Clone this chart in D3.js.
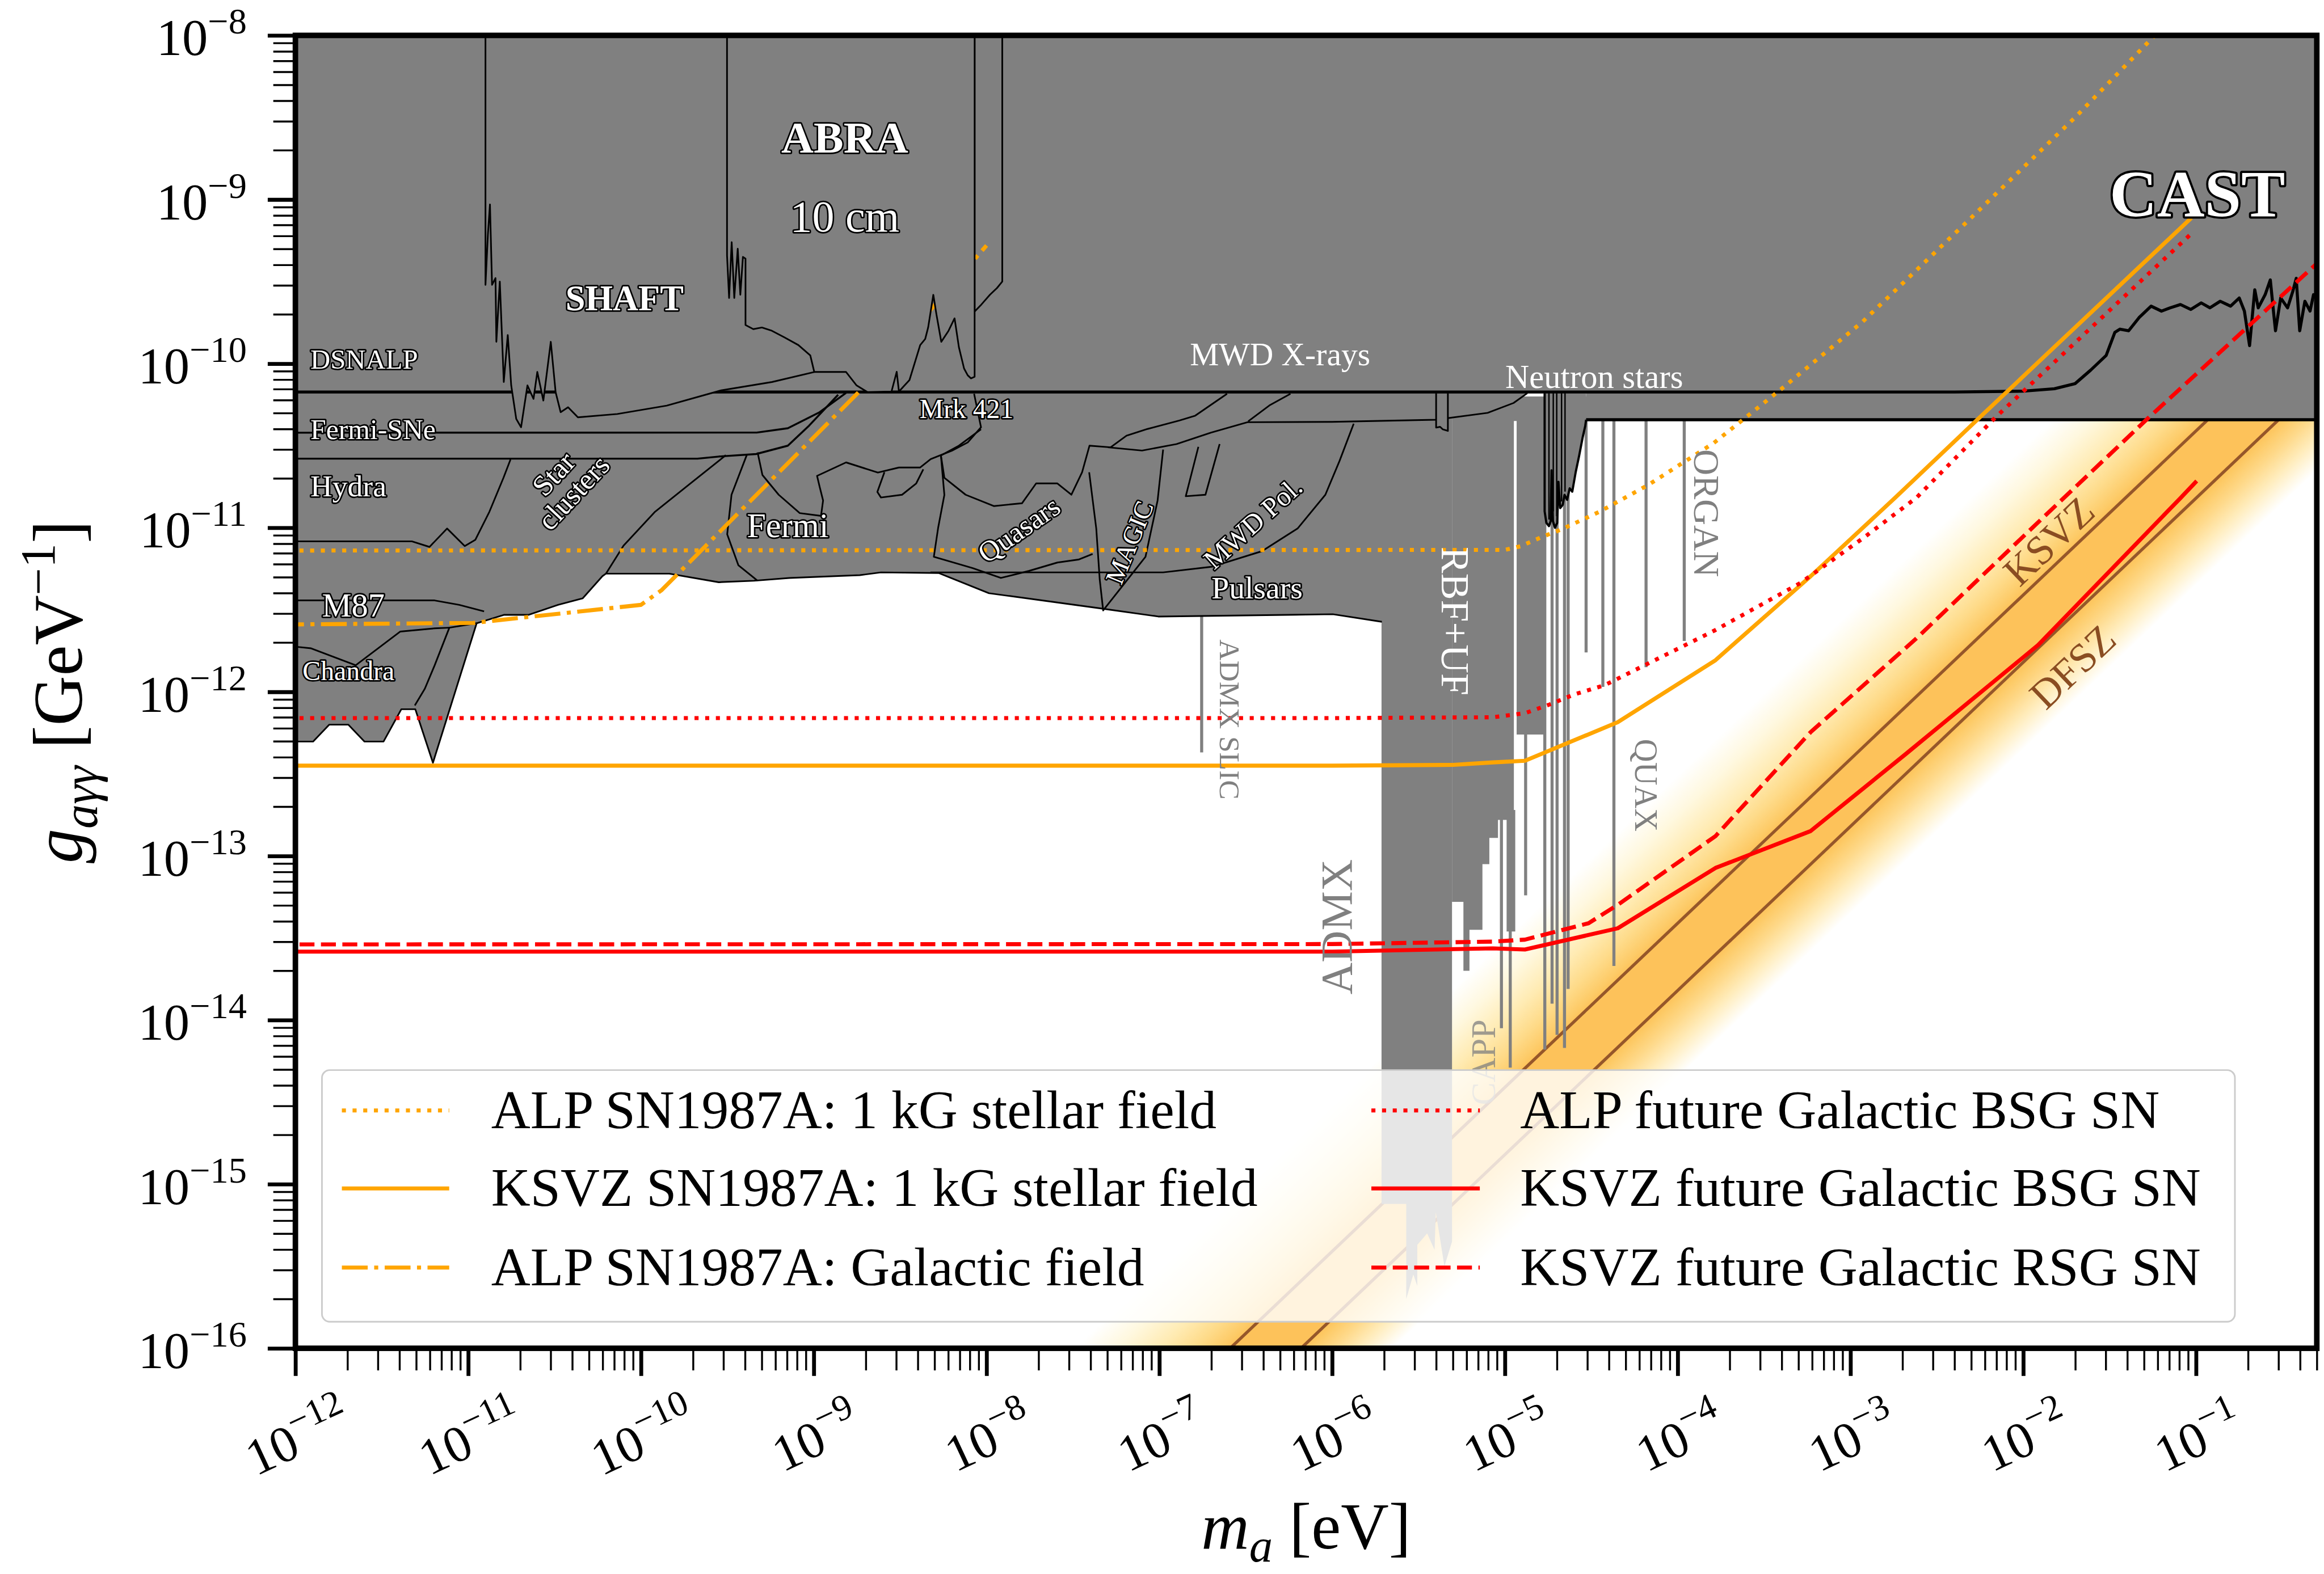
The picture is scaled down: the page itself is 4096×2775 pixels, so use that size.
<!DOCTYPE html>
<html>
<head>
<meta charset="utf-8">
<title>Axion-photon coupling limits</title>
<script src="https://cdn.jsdelivr.net/npm/d3@7/dist/d3.min.js"></script>
<style>
  html, body { margin: 0; padding: 0; background: #fff; }
  svg text { font-family: "Liberation Serif", "DejaVu Serif", serif; }
</style>
</head>
<body>
<div id="chart"></div>
<script>
// All values are log10: m = log10(m_a / eV), g = log10(g_agg / GeV^-1)

// axes
const xDecades = d3.range(-12, 0);
const yDecades = d3.range(-16, -7);
const xDomain = [1e-12, 0.5];
const yDomain = [1e-16, 1e-8];

// QCD axion band: log10(g/m) of the model lines, and where the shading fades out
const qcdModels = ['KSVZ', 'DFSZ'];
const qcdLogRatio = [-9.41, -9.82];
const qcdGlowEdge = [-8.51, -10.35];

// supernova curves [m, g]
const alpStellar = [[-12.1,-11.139],[-5.0,-11.135],[-4.91,-11.113],[-4.78,-11.054],[-4.67,-11.009],[-4.455,-10.904],[-4.17,-10.739],[-3.79,-10.483],[-3.41,-10.163],[-2.93,-9.745],[-2.31,-9.12],[-1.70,-8.50],[-1.257,-8.02],[-1.2,-7.96]];
const ksvzStellar = [[-12.1,-12.45],[-6.0,-12.45],[-5.3,-12.445],[-5.07,-12.43],[-4.884,-12.42],[-4.347,-12.185],[-3.781,-11.807],[-3.23,-11.295],[-2.741,-10.817],[-2.251,-10.327],[-1.027,-9.112]];
const alpGalactic = [[-12.1,-11.59],[-10.97,-11.58],[-10.0,-11.47],[-9.88,-11.38],[-8.73,-10.163],[-8.0,-9.28]];
const alpFutureBSG = [[-12.1,-12.16],[-6.0,-12.16],[-5.07,-12.155],[-4.884,-12.13],[-4.741,-12.077],[-4.599,-12.016],[-4.424,-11.96],[-3.786,-11.626],[-3.29,-11.337],[-2.925,-11.062],[-2.618,-10.817],[-2.16,-10.327],[-1.012,-9.193]];
const ksvzFutureBSG = [[-12.1,-13.583],[-6.0,-13.583],[-5.07,-13.563],[-4.884,-13.57],[-4.347,-13.441],[-3.781,-13.073],[-3.23,-12.848],[-2.68,-12.379],[-1.914,-11.715],[-1.088,-10.817],[-0.996,-10.715]];
const ksvzFutureRSG = [[-12.1,-13.539],[-6.0,-13.537],[-5.07,-13.522],[-4.884,-13.51],[-4.516,-13.41],[-4.347,-13.298],[-3.781,-12.879],[-3.23,-12.245],[-2.618,-11.674],[-1.885,-10.938],[-1.272,-10.327],[-0.28,-9.37]];

const legendLabels = [
  'ALP SN1987A: 1 kG stellar field',
  'KSVZ SN1987A: 1 kG stellar field',
  'ALP SN1987A: Galactic field',
  'ALP future Galactic BSG SN',
  'KSVZ future Galactic BSG SN',
  'KSVZ future Galactic RSG SN'
];

// helioscopes / haloscopes
const cast = [[-12.1,-10.173],[-2.4,-10.173],[-2.0,-10.168],[-1.82,-10.153],[-1.70,-10.122],[-1.61,-10.04],[-1.52,-9.95],[-1.47,-9.81],[-1.44,-9.79],[-1.39,-9.80],[-1.33,-9.72],[-1.26,-9.65],[-1.20,-9.68],[-1.15,-9.66],[-1.09,-9.64],[-1.03,-9.67],[-0.97,-9.63],[-0.92,-9.66],[-0.86,-9.62],[-0.80,-9.65],[-0.75,-9.60],[-0.72,-9.68],[-0.69,-9.89],[-0.66,-9.55],[-0.64,-9.66],[-0.60,-9.58],[-0.57,-9.49],[-0.55,-9.70],[-0.54,-9.80],[-0.51,-9.60],[-0.47,-9.66],[-0.44,-9.56],[-0.42,-9.48],[-0.40,-9.80],[-0.37,-9.62],[-0.34,-9.68],[-0.32,-9.58],[-0.28,-9.63]];
const shaft = [[-10.900,-7.9],[-10.900,-9.52],[-10.886,-9.214],[-10.874,-9.03],[-10.862,-9.52],[-10.842,-9.479],[-10.837,-9.867],[-10.817,-9.5],[-10.794,-10.112],[-10.771,-9.826],[-10.751,-10.133],[-10.722,-10.337],[-10.694,-10.388],[-10.657,-10.133],[-10.622,-10.215],[-10.600,-10.051],[-10.565,-10.225],[-10.522,-9.867],[-10.494,-10.174],[-10.465,-10.296],[-10.422,-10.266],[-10.365,-10.327],[-10.137,-10.307],[-9.851,-10.256],[-9.536,-10.163],[-9.242,-10.112],[-8.997,-10.051]];
const abra = [[-9.502,-7.9],[-9.502,-9.34],[-9.49,-9.6],[-9.475,-9.26],[-9.46,-9.60],[-9.44,-9.30],[-9.425,-9.58],[-9.41,-9.35],[-9.395,-9.36],[-9.395,-9.765],[-9.35,-9.79],[-9.30,-9.78],[-9.242,-9.80],[-9.17,-9.84],[-9.089,-9.887],[-9.02,-9.95],[-8.997,-10.051],[-8.813,-10.051],[-8.752,-10.133],[-8.69,-10.173],[-8.55,-10.17],[-8.52,-10.05],[-8.507,-10.17],[-8.446,-10.10],[-8.384,-9.887],[-8.355,-9.85],[-8.338,-9.78],[-8.308,-9.581],[-8.29,-9.70],[-8.262,-9.867],[-8.22,-9.80],[-8.185,-9.724],[-8.16,-9.90],[-8.13,-10.03],[-8.109,-10.071],[-8.09,-10.09],[-8.069,-10.08],[-8.069,-7.9]];
const abraRun2 = [[-8.069,-7.9],[-8.069,-9.683],[-8.03,-9.64],[-7.98,-9.58],[-7.94,-9.54],[-7.909,-9.50],[-7.909,-7.9]];
const admx = [[-5.714,-10.2],[-5.714,-15.12],[-5.571,-15.12],[-5.571,-15.70],[-5.53,-15.55],[-5.507,-15.62],[-5.507,-15.37],[-5.45,-15.30],[-5.407,-15.40],[-5.40,-15.17],[-5.35,-15.50],[-5.306,-15.35],[-5.306,-10.2]];
const rbfUf = [[-5.306,-10.2],[-5.306,-13.28],[-5.24,-13.28],[-5.24,-13.70],[-5.205,-13.70],[-5.205,-13.45],[-5.13,-13.45],[-5.13,-13.05],[-5.09,-13.05],[-5.09,-12.89],[-5.04,-12.89],[-5.04,-12.78],[-4.99,-12.78],[-4.99,-13.46],[-4.94,-13.46],[-4.94,-12.26],[-4.77,-12.26],[-4.77,-10.2]];
// narrow haloscope exclusions: [m, lowest g]
const haloLines = [[-6.755,-12.369],[-5.02,-14.05],[-4.969,-14.29],[-4.88,-13.24],[-4.769,-14.18],[-4.727,-13.90],[-4.698,-14.09],[-4.655,-14.17],[-4.634,-13.81],[-4.53,-11.76],[-4.433,-11.97],[-4.369,-13.67],[-4.183,-11.85],[-3.962,-11.69]];
const rbfGap = [[-4.94,-10.35],[-4.94,-12.72]];

// astrophysical bounds: lower envelope and internal region edges
const astroLower = [[-12,-12.303],[-11.898,-12.303],[-11.804,-12.20],[-11.694,-12.20],[-11.60,-12.303],[-11.49,-12.303],[-11.387,-12.106],[-11.306,-12.106],[-11.204,-12.432],[-10.951,-11.582],[-10.794,-11.531],[-10.652,-11.531],[-10.48,-11.47],[-10.337,-11.43],[-10.223,-11.295],[-10.203,-11.28],[-9.836,-11.28],[-9.55,-11.332],[-9.346,-11.323],[-9.142,-11.306],[-8.733,-11.289],[-8.611,-11.272],[-8.277,-11.276],[-7.986,-11.399],[-7.343,-11.491],[-7.006,-11.541],[-6.753,-11.538],[-5.996,-11.527],[-5.712,-11.573]];
const fermiSNe = [[-12,-10.421],[-9.33,-10.42],[-9.15,-10.394],[-8.966,-10.296],[-8.813,-10.178]];
const hydraTop = [[-12,-10.579],[-9.673,-10.579],[-9.548,-10.566],[-9.334,-10.551],[-9.15,-10.50],[-9.027,-10.378],[-8.859,-10.19]];
const hydraBottom = [[-12,-11.083],[-11.326,-11.083],[-11.224,-11.117],[-11.122,-11.005],[-11.02,-11.112],[-10.959,-11.074],[-10.877,-10.902],[-10.796,-10.696],[-10.755,-10.584]];
const starClusters = [[-9.509,-10.558],[-9.714,-10.730],[-9.918,-10.902],[-10.101,-11.109],[-10.203,-11.28]];
const m87 = [[-12,-11.443],[-11.194,-11.443],[-11.052,-11.47],[-10.908,-11.51]];
const chandraTop = [[-12,-11.725],[-11.909,-11.735],[-11.651,-11.838],[-11.394,-11.633],[-11.194,-11.613],[-11.109,-11.609]];
const chandraSide = [[-10.951,-11.582],[-11.109,-11.609],[-11.194,-11.838],[-11.251,-11.981],[-11.309,-12.083]];
const fermiLeft = [[-9.387,-10.555],[-9.476,-10.799],[-9.501,-11.04],[-9.436,-11.229],[-9.325,-11.323]];
const fermiInner = [[-9.325,-10.541],[-9.297,-10.679],[-9.203,-10.799],[-9.081,-10.911],[-8.958,-10.928],[-8.946,-10.834],[-8.966,-10.75],[-8.981,-10.684],[-8.813,-10.602],[-8.629,-10.664],[-8.507,-10.633],[-8.384,-10.633],[-8.323,-10.582],[-8.201,-10.531],[-8.109,-10.48],[-8.032,-10.388],[-8.072,-10.184]];
const fermiLoop = [[-8.591,-10.662],[-8.632,-10.782],[-8.611,-10.816],[-8.489,-10.799],[-8.407,-10.730],[-8.366,-10.644]];
const mrkUpper = [[-8.032,-10.40],[-8.16,-10.50],[-8.264,-10.56],[-8.244,-10.696],[-8.121,-10.799],[-7.958,-10.868],[-7.795,-10.851],[-7.713,-10.73],[-7.59,-10.73],[-7.509,-10.799],[-7.447,-10.662],[-7.404,-10.5],[-7.282,-10.51],[-7.19,-10.439],[-7.068,-10.398],[-6.884,-10.347],[-6.792,-10.317],[-6.608,-10.184]];
const quasars = [[-8.264,-10.56],[-8.244,-10.80],[-8.28,-11.0],[-8.305,-11.177],[-8.08,-11.246],[-7.917,-11.306],[-7.754,-11.263],[-7.59,-11.212],[-7.468,-11.194],[-7.386,-11.16]];
const magic = [[-7.406,-10.662],[-7.365,-11.005],[-7.345,-11.315],[-7.325,-11.504],[-7.08,-11.177],[-7.01,-10.834],[-6.978,-10.524]];
const mwdPol = [[-8.325,-11.272],[-6.978,-11.272],[-6.692,-11.237],[-6.406,-11.143],[-6.2,-11.005],[-6.039,-10.799],[-5.957,-10.593],[-5.875,-10.366]];
const mwdPolInner = [[-6.774,-10.507],[-6.847,-10.808],[-6.733,-10.799],[-6.651,-10.49]];
const mwdXrays = [[-7.297,-10.51],[-7.1,-10.53],[-6.9,-10.49],[-6.7,-10.42],[-6.49,-10.357],[-6.0,-10.355],[-5.4,-10.342],[-5.1,-10.30],[-4.95,-10.24],[-4.87,-10.18]];
const mwdArc = [[-6.486,-10.352],[-6.363,-10.255],[-6.241,-10.184]];
const sidecarNotch = [[-5.398,-10.18],[-5.398,-10.39],[-5.375,-10.385],[-5.36,-10.40],[-5.33,-10.41],[-5.33,-10.18]];
const neutronStars = [[-4.77,-10.18],[-4.77,-10.90],[-4.76,-10.97],[-4.745,-10.99],[-4.735,-10.96],[-4.73,-10.65],[-4.722,-10.96],[-4.71,-11.0],[-4.697,-10.97],[-4.69,-10.72],[-4.68,-10.88],[-4.665,-10.86],[-4.655,-10.80],[-4.64,-10.83],[-4.625,-10.76],[-4.61,-10.78],[-4.59,-10.66],[-4.57,-10.56],[-4.55,-10.45],[-4.535,-10.38],[-4.53,-10.342],[-4.53,-10.18]];
const neutronStarSplits = [[-4.745,-10.95],[-4.72,-10.9],[-4.70,-10.93],[-4.672,-10.84],[-4.652,-10.78]];
const globularClusters = [[-4.53,-10.342],[-0.28,-10.342]];

// ---------- drawing ----------
const W = 4199, H = 2845, S = 0.975;
const GRAY = '#808080', BROWN = '#96572a', ORANGE = '#ffa500', RED = '#ff0000';
const TOP = -7.5;

const svg = d3.select('#chart').append('svg')
  .attr('width', 4096).attr('height', 2775);
const root = svg.append('g').attr('transform', `scale(${S})`);
root.append('rect').attr('width', W).attr('height', H).attr('fill', '#fff');

const x = d3.scaleLog().domain(xDomain).range([534, 4188]);
const y = d3.scaleLog().domain(yDomain).range([2438, 64]);
const X = m => x(Math.pow(10, m));
const Y = g => y(Math.pow(10, g));
const line = d3.line().x(d => X(d[0])).y(d => Y(d[1]));
const closed = d => line(d) + 'Z';

const defs = svg.append('defs');
defs.append('clipPath').attr('id', 'plotArea').append('rect')
  .attr('x', 534).attr('y', 64).attr('width', 4188 - 534).attr('height', 2438 - 64);
const plot = root.append('g').attr('clip-path', 'url(#plotArea)');

// QCD band with a soft gradient across it
const sx = X(0) - X(-1), sy = Y(-1) - Y(0), hyp = Math.hypot(sx, sy);
const span = qcdGlowEdge[0] - qcdGlowEdge[1];
const ax0 = X(-4), ay0 = Y(-4 + qcdGlowEdge[0]);
const dist = span * sy * sx / hyp;
const grad = defs.append('linearGradient').attr('id', 'qcdGlow')
  .attr('gradientUnits', 'userSpaceOnUse')
  .attr('x1', ax0).attr('y1', ay0)
  .attr('x2', ax0 + sy / hyp * dist).attr('y2', ay0 + sx / hyp * dist);
const glowStops = [
  [qcdGlowEdge[0], '#ffffff'], [-8.75, '#fff8df'], [-9.0, '#ffebb3'], [-9.2, '#fedb8a'],
  [-9.36, '#fdca66'], [qcdLogRatio[0], '#fdc25a'], [qcdLogRatio[1], '#fdc25a'],
  [-9.87, '#fdca66'], [-10.0, '#fed98a'], [-10.15, '#ffecbb'], [-10.28, '#fff9e8'],
  [qcdGlowEdge[1], '#ffffff']
];
glowStops.forEach(([o, c]) => grad.append('stop')
  .attr('offset', (qcdGlowEdge[0] - o) / span).attr('stop-color', c));

plot.append('path')
  .datum([[-13, -13 + qcdGlowEdge[0]], [1, 1 + qcdGlowEdge[0]], [1, 1 + qcdGlowEdge[1]], [-13, -13 + qcdGlowEdge[1]]])
  .attr('d', closed).attr('fill', 'url(#qcdGlow)');
qcdLogRatio.forEach(r => plot.append('path')
  .datum([[-13, -13 + r], [1, 1 + r]])
  .attr('d', line).attr('fill', 'none').attr('stroke', BROWN).attr('stroke-width', 5.5));

// haloscopes
plot.append('path').datum(admx).attr('d', closed).attr('fill', GRAY);
plot.append('path').datum(rbfUf).attr('d', closed).attr('fill', GRAY);
plot.selectAll('line.halo').data(haloLines).enter().append('line')
  .attr('x1', d => X(d[0])).attr('x2', d => X(d[0]))
  .attr('y1', Y(-10.2)).attr('y2', d => Y(d[1]))
  .attr('stroke', GRAY).attr('stroke-width', 5.5);
plot.append('path').datum(rbfGap).attr('d', line)
  .attr('stroke', '#fff').attr('stroke-width', 5).attr('fill', 'none');

// astrophysical bounds
const astroFill = [[-12.1, astroLower[0][1]]]
  .concat(astroLower, mwdXrays.filter(d => d[0] > -5.712), [[-4.87, TOP], [-12.1, TOP]]);
plot.append('path').datum(astroFill).attr('d', closed).attr('fill', GRAY);

const edge = (pts, w) => plot.append('path').datum(pts).attr('d', line)
  .attr('fill', 'none').attr('stroke', '#000').attr('stroke-width', w || 3)
  .attr('stroke-linejoin', 'round');
edge(astroLower, 3);
[fermiSNe, hydraTop].forEach(p => edge(p, 3.5));
[hydraBottom, starClusters, m87, chandraTop, chandraSide, fermiLeft, fermiInner, fermiLoop,
 mrkUpper, quasars, magic, mwdPol, mwdPolInner, mwdXrays, mwdArc].forEach(p => edge(p, 3));

plot.append('path').datum(sidecarNotch).attr('d', closed).attr('fill', GRAY);
edge(sidecarNotch, 3);

plot.append('path').datum(neutronStars).attr('d', closed).attr('fill', GRAY);
edge(neutronStars.slice(0, -1), 4);
neutronStarSplits.forEach(([m, g]) => edge([[m, -10.18], [m, g]], 2.5));

plot.append('path')
  .datum(globularClusters.concat([[globularClusters[1][0], TOP], [globularClusters[0][0], TOP]]))
  .attr('d', closed).attr('fill', GRAY);
edge(globularClusters, 5.5);

plot.append('path').datum(cast.concat([[cast[cast.length - 1][0], TOP], [cast[0][0], TOP]]))
  .attr('d', closed).attr('fill', GRAY);
edge(cast, 5.5);

plot.append('path').datum(abraRun2).attr('d', closed).attr('fill', GRAY);
edge(abraRun2, 3);

// supernova curves
const dashes = { dotted: '7.3,12', solid: null, dashdot: '46.7,11.7,7.3,11.7', dashed: '27,11.7' };
const snSeries = [
  { pts: alpStellar, color: ORANGE, dash: 'dotted' },
  { pts: ksvzStellar, color: ORANGE, dash: 'solid' },
  { pts: alpGalactic, color: ORANGE, dash: 'dashdot' },
  { pts: alpFutureBSG, color: RED, dash: 'dotted' },
  { pts: ksvzFutureBSG, color: RED, dash: 'solid' },
  { pts: ksvzFutureRSG, color: RED, dash: 'dashed' }
];
snSeries.forEach(s => plot.append('path').datum(s.pts).attr('d', line)
  .attr('fill', 'none').attr('stroke', s.color).attr('stroke-width', 7.3)
  .attr('stroke-dasharray', dashes[s.dash]).attr('stroke-linejoin', 'round'));

// SHAFT and ABRA on top
plot.append('path').datum(shaft.concat([[shaft[shaft.length - 1][0], TOP], [shaft[0][0], TOP]]))
  .attr('d', closed).attr('fill', GRAY);
edge(shaft, 3);
plot.append('path').datum(abra).attr('d', closed).attr('fill', GRAY);
edge(abra, 3);

// region labels
const labels = [
  { t: 'DSNALP', x: 561, y: 667, s: 50, o: true },
  { t: 'Fermi-SNe', x: 561, y: 794, s: 51, o: true },
  { t: 'Hydra', x: 561, y: 897, s: 55, o: true },
  { t: 'M87', x: 582, y: 1115, s: 60, o: true },
  { t: 'Chandra', x: 547, y: 1230, s: 49, o: true },
  { t: 'SHAFT', x: 1129, y: 561, s: 64, a: 'middle', o: true, b: true },
  { t: 'ABRA', x: 1527, y: 276, s: 81, a: 'middle', o: true, b: true },
  { t: '10 cm', x: 1527, y: 418, s: 80, a: 'middle', o: true },
  { t: 'Mrk 421', x: 1662, y: 756, s: 49, o: true },
  { t: 'Fermi', x: 1350, y: 971, s: 62, o: true },
  { t: 'Pulsars', x: 2190, y: 1082, s: 57, o: true },
  { t: 'MWD X-rays', x: 2151, y: 661, s: 59 },
  { t: 'Neutron stars', x: 2721, y: 702, s: 60 },
  { t: 'CAST', x: 3972, y: 391, s: 119, a: 'middle', o: true, b: true, sw: 8 },
  { t: 'Star', x: 1001, y: 857, s: 53, r: -47, c: true, a: 'middle', o: true },
  { t: 'clusters', x: 1037, y: 891, s: 53, r: -47, c: true, a: 'middle', o: true },
  { t: 'Quasars', x: 1842, y: 958, s: 52, r: -35, c: true, a: 'middle', o: true },
  { t: 'MAGIC', x: 2042, y: 981, s: 47, r: -68, c: true, a: 'middle', o: true },
  { t: 'MWD Pol.', x: 2265, y: 946, s: 50, r: -42, c: true, a: 'middle', o: true },
  { t: 'RBF+UF', x: 2630, y: 1123, s: 72, r: 90, c: true, a: 'middle' },
  { t: 'ADMX', x: 2417, y: 1676, s: 80, r: -90, c: true, a: 'middle', fill: GRAY },
  { t: 'ADMX SLIC', x: 2223, y: 1301, s: 53, r: 90, c: true, a: 'middle', fill: GRAY },
  { t: 'ORGAN', x: 3084, y: 928, s: 65, r: 90, c: true, a: 'middle', fill: GRAY },
  { t: 'QUAX', x: 2975, y: 1420, s: 58, r: 90, c: true, a: 'middle', fill: GRAY },
  { t: 'CAPP', x: 2682, y: 1921, s: 62, r: -90, c: true, a: 'middle', fill: GRAY, op: 0.75 },
  { t: qcdModels[0], x: 3704, y: 979, s: 74, r: -43.5, c: true, a: 'middle', fill: '#8a4d22' },
  { t: qcdModels[1], x: 3747, y: 1206, s: 74, r: -43.5, c: true, a: 'middle', fill: '#8a4d22' }
];
const labelLayer = root.append('g');
labels.forEach(o => {
  const t = labelLayer.append('text')
    .attr('transform', `translate(${o.x},${o.y}) rotate(${o.r || 0})`)
    .attr('y', o.c ? o.s * 0.33 : 0)
    .attr('text-anchor', o.a || 'start')
    .attr('font-size', o.s)
    .attr('font-weight', o.b ? 'bold' : 'normal')
    .attr('fill', o.fill || '#fff')
    .attr('opacity', o.op || 1)
    .text(o.t);
  if (o.o) t.attr('stroke', '#000').attr('stroke-width', o.sw || 5.5)
    .attr('stroke-linejoin', 'round').attr('paint-order', 'stroke');
});

// legend
const legend = root.append('g');
legend.append('rect').attr('x', 582).attr('y', 1935).attr('width', 4040 - 582).attr('height', 2390 - 1935)
  .attr('rx', 14).attr('fill', '#fff').attr('fill-opacity', 0.8)
  .attr('stroke', '#cccccc').attr('stroke-width', 3);
const legendRows = [2008, 2149, 2292];
const legendCols = [{ h0: 618, h1: 812, tx: 888 }, { h0: 2479, h1: 2675, tx: 2748 }];
snSeries.forEach((s, i) => {
  const col = legendCols[Math.floor(i / 3)], ry = legendRows[i % 3];
  legend.append('line').attr('x1', col.h0).attr('x2', col.h1).attr('y1', ry).attr('y2', ry)
    .attr('stroke', s.color).attr('stroke-width', 7.3).attr('stroke-dasharray', dashes[s.dash]);
  legend.append('text').attr('x', col.tx).attr('y', ry + 32).attr('font-size', 98)
    .attr('fill', '#000').text(legendLabels[i]);
});

// frame and axes
const axes = root.append('g');
const xMinor = [], yMinor = [];
xDecades.forEach(k => d3.range(2, 10).forEach(j => { const v = j * Math.pow(10, k); if (v <= 0.5 + 1e-9) xMinor.push(v); }));
yDecades.slice(0, -1).forEach(k => d3.range(2, 10).forEach(j => yMinor.push(j * Math.pow(10, k))));

const styleAxis = (g, w) => { g.select('.domain').remove(); g.selectAll('line').attr('stroke', '#000').attr('stroke-width', w); };
axes.append('g').attr('transform', 'translate(534,0)')
  .call(d3.axisLeft(y).tickValues(yMinor).tickSize(40).tickFormat(() => '')).call(g => styleAxis(g, 3.5));
axes.append('g').attr('transform', 'translate(534,0)')
  .call(d3.axisLeft(y).tickValues(yDecades.map(k => Math.pow(10, k))).tickSize(50).tickFormat(() => '')).call(g => styleAxis(g, 7));
axes.append('g').attr('transform', 'translate(0,2438)')
  .call(d3.axisBottom(x).tickValues(xMinor).tickSize(40).tickFormat(() => '')).call(g => styleAxis(g, 3.5));
axes.append('g').attr('transform', 'translate(0,2438)')
  .call(d3.axisBottom(x).tickValues(xDecades.map(k => Math.pow(10, k))).tickSize(50).tickFormat(() => '')).call(g => styleAxis(g, 7));

axes.append('rect').attr('x', 534).attr('y', 64).attr('width', 4188 - 534).attr('height', 2438 - 64)
  .attr('fill', 'none').attr('stroke', '#000').attr('stroke-width', 10);

const power = (text, k, size) => {
  text.append('tspan').text('10');
  text.append('tspan').attr('dy', -0.42 * size).attr('font-size', size * 0.71).text('\u2212' + Math.abs(k));
};
yDecades.forEach(k => {
  const t = axes.append('text').attr('x', 446).attr('y', Y(k) + 36)
    .attr('text-anchor', 'end').attr('font-size', 93).attr('fill', '#000');
  power(t, k, 93);
});
xDecades.forEach(k => {
  const t = axes.append('g').attr('transform', `translate(${X(k)},2590) rotate(-25)`)
    .append('text').attr('y', 42).attr('text-anchor', 'middle').attr('font-size', 93).attr('fill', '#000');
  power(t, k, 93);
});

// axis titles
const yTitle = axes.append('g').attr('transform', 'translate(110,1251) rotate(-90)')
  .append('text').attr('y', 38).attr('text-anchor', 'middle').attr('font-size', 125).attr('fill', '#000');
yTitle.append('tspan').attr('font-style', 'italic').text('g');
yTitle.append('tspan').attr('font-style', 'italic').attr('font-size', 88).attr('dy', 27).text('a\u03b3\u03b3');
yTitle.append('tspan').attr('dy', -27).text('\u00a0[GeV');
yTitle.append('tspan').attr('font-size', 88).attr('dy', -50).text('\u22121');
yTitle.append('tspan').attr('dy', 50).text(']');

const xTitle = axes.append('text').attr('x', 2361).attr('y', 2800)
  .attr('text-anchor', 'middle').attr('font-size', 120).attr('fill', '#000');
xTitle.append('tspan').attr('font-style', 'italic').text('m');
xTitle.append('tspan').attr('font-style', 'italic').attr('font-size', 85).attr('dy', 24).text('a');
xTitle.append('tspan').attr('dy', -24).text('\u00a0[eV]');
</script>
</body>
</html>
